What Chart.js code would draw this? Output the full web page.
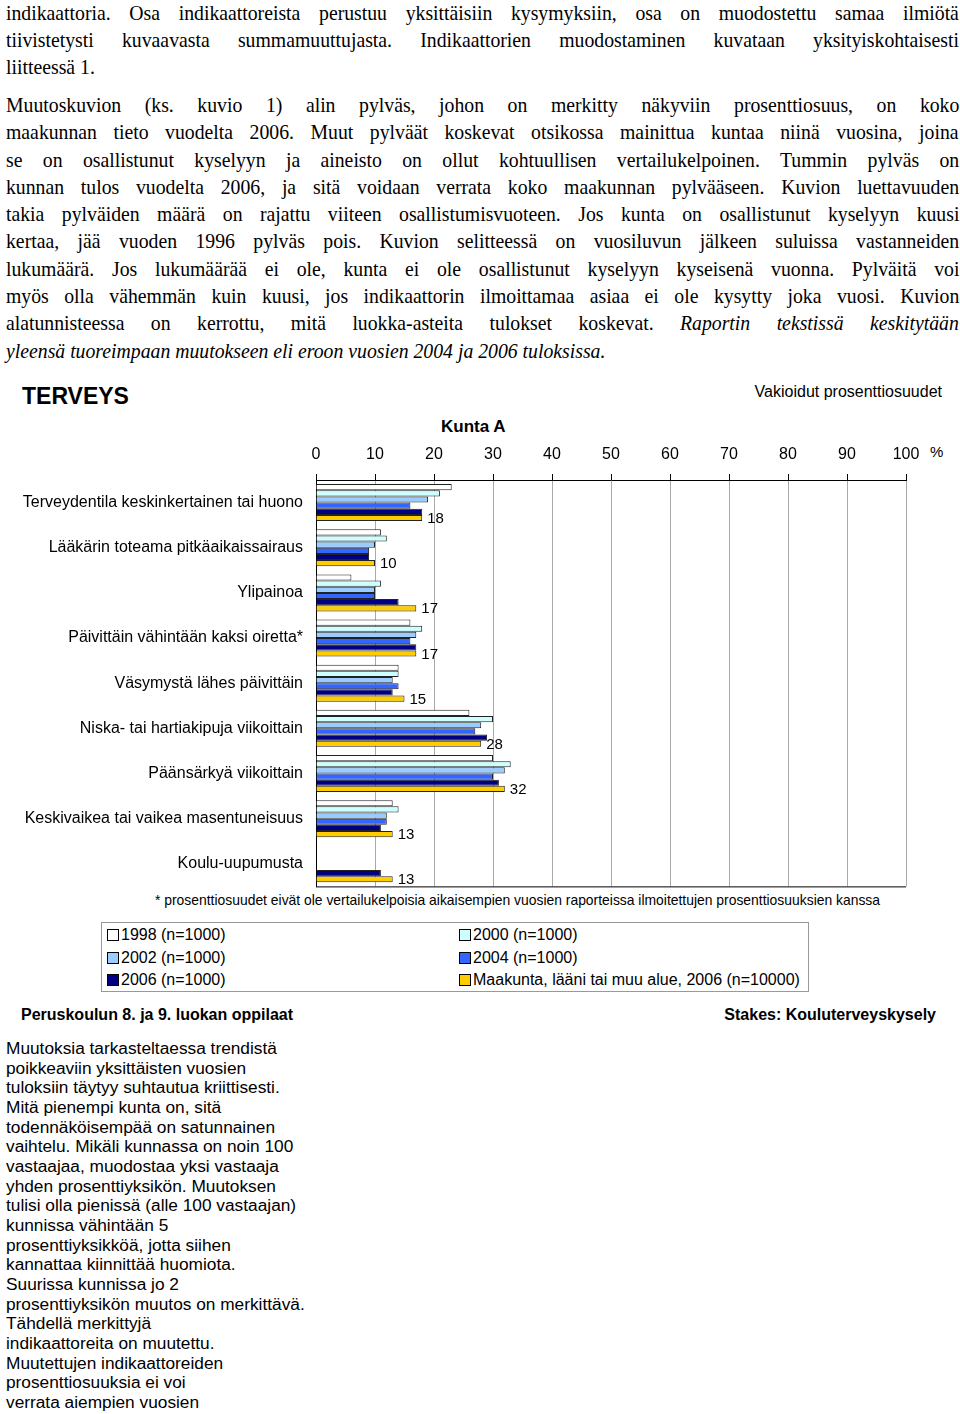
<!DOCTYPE html>
<html>
<head>
<meta charset="utf-8">
<script src="https://cdn.jsdelivr.net/npm/chart.js@4.4.1/dist/chart.umd.min.js"></script>
<style>
  body { margin: 0; width: 960px; height: 1414px; position: relative; background: #fff; overflow: hidden; }
  .t { position: absolute; white-space: nowrap; color: #000; }
  .serif { font-family: "Liberation Serif", "Times New Roman", serif; font-size: 21px; line-height: 27px; height: 27px; left: 6px; transform: scaleX(0.94); transform-origin: 0 0; }
  .sans { font-family: "Liberation Sans", Arial, sans-serif; }
  .note { font-size: 17.3px; line-height: 20px; left: 6px; }
  #legend { position: absolute; left: 101px; top: 922px; width: 706px; height: 68px; border: 1px solid #999; font-family: "Liberation Sans", Arial, sans-serif; font-size: 16px; }
  .lg { position: absolute; white-space: nowrap; line-height: 18px; }
  .lg span { display: inline-block; width: 10px; height: 10px; border: 1px solid #000; margin-right: 2px; vertical-align: -1px; }
  canvas { position: absolute; left: 0; top: 436px; }
</style>
</head>
<body>
<div id="text"></div>

<div class="t sans" style="left:22px; top:383px; font-size:23px; font-weight:bold;">TERVEYS</div>
<div class="t sans" style="right:18px; top:383px; font-size:16px;">Vakioidut prosenttiosuudet</div>
<div class="t sans" style="left:441px; top:417px; font-size:17px; font-weight:bold;">Kunta A</div>
<div class="t sans" style="left:930px; top:443px; font-size:15px;">%</div>
<div class="t sans" style="left:155px; top:892px; font-size:13.9px;">* prosenttiosuudet eivät ole vertailukelpoisia aikaisempien vuosien raporteissa ilmoitettujen prosenttiosuuksien kanssa</div>
<div id="legend"></div>
<div class="t sans" style="left:21px; top:1006px; font-size:16px; font-weight:bold;">Peruskoulun 8. ja 9. luokan oppilaat</div>
<div class="t sans" style="right:24px; top:1006px; font-size:16px; font-weight:bold;">Stakes: Kouluterveyskysely</div>
<div id="notes"></div>

<canvas id="chart" width="960" height="465"></canvas>

<script>
var categories = [
    'Terveydentila keskinkertainen tai huono',
    'Lääkärin toteama pitkäaikaissairaus',
    'Ylipainoa',
    'Päivittäin vähintään kaksi oiretta*',
    'Väsymystä lähes päivittäin',
    'Niska- tai hartiakipuja viikoittain',
    'Päänsärkyä viikoittain',
    'Keskivaikea tai vaikea masentuneisuus',
    'Koulu-uupumusta'
];
var seriesLabels = ['1998 (n=1000)', '2000 (n=1000)', '2002 (n=1000)', '2004 (n=1000)', '2006 (n=1000)', 'Maakunta, lääni tai muu alue, 2006 (n=10000)'];
var seriesColors = ['#ffffff', '#ccffff', '#99ccff', '#3366ff', '#000080', '#ffcc00'];
var values1998 = [23, 11, 6, 16, 14, 26, 30, 13, null];
var values2000 = [21, 12, 11, 18, 14, 30, 33, 14, null];
var values2002 = [19, 10, 10, 17, 13, 28, 32, 12, null];
var values2004 = [16, 9, 10, 16, 14, 27, 30, 12, null];
var values2006 = [18, 9, 14, 17, 13, 29, 31, 11, 11];
var valuesRegion = [18, 10, 17, 17, 15, 28, 32, 13, 13];
var xTicks = [0, 10, 20, 30, 40, 50, 60, 70, 80, 90, 100];

var topLines = [
    {y: 13, s: 'indikaattoria. Osa indikaattoreista perustuu yksittäisiin kysymyksiin, osa on muodostettu samaa ilmiötä', j: true},
    {y: 40, s: 'tiivistetysti kuvaavasta summamuuttujasta. Indikaattorien muodostaminen kuvataan yksityiskohtaisesti', j: true},
    {y: 67, s: 'liitteessä 1.', j: false},
    {y: 105, s: 'Muutoskuvion (ks. kuvio 1) alin pylväs, johon on merkitty näkyviin prosenttiosuus, on koko', j: true},
    {y: 132, s: 'maakunnan tieto vuodelta 2006. Muut pylväät koskevat otsikossa mainittua kuntaa niinä vuosina, joina', j: true},
    {y: 160, s: 'se on osallistunut kyselyyn ja aineisto on ollut kohtuullisen vertailukelpoinen. Tummin pylväs on', j: true},
    {y: 187, s: 'kunnan tulos vuodelta 2006, ja sitä voidaan verrata koko maakunnan pylvääseen. Kuvion luettavuuden', j: true},
    {y: 214, s: 'takia pylväiden määrä on rajattu viiteen osallistumisvuoteen. Jos kunta on osallistunut kyselyyn kuusi', j: true},
    {y: 241, s: 'kertaa, jää vuoden 1996 pylväs pois. Kuvion selitteessä on vuosiluvun jälkeen suluissa vastanneiden', j: true},
    {y: 269, s: 'lukumäärä. Jos lukumäärää ei ole, kunta ei ole osallistunut kyselyyn kyseisenä vuonna. Pylväitä voi', j: true},
    {y: 296, s: 'myös olla vähemmän kuin kuusi, jos indikaattorin ilmoittamaa asiaa ei ole kysytty joka vuosi. Kuvion', j: true},
    {y: 323, s: 'alatunnisteessa on kerrottu, mitä luokka-asteita tulokset koskevat. <i>Raportin tekstissä keskitytään</i>', j: true},
    {y: 351, s: '<i>yleensä tuoreimpaan muutokseen eli eroon vuosien 2004 ja 2006 tuloksissa.</i>', j: false}
];
var noteLines = [
    'Muutoksia tarkasteltaessa trendistä',
    'poikkeaviin yksittäisten vuosien',
    'tuloksiin täytyy suhtautua kriittisesti.',
    'Mitä pienempi kunta on, sitä',
    'todennäköisempää on satunnainen',
    'vaihtelu. Mikäli kunnassa on noin 100',
    'vastaajaa, muodostaa yksi vastaaja',
    'yhden prosenttiyksikön. Muutoksen',
    'tulisi olla pienissä (alle 100 vastaajan)',
    'kunnissa vähintään 5',
    'prosenttiyksikköä, jotta siihen',
    'kannattaa kiinnittää huomiota.',
    'Suurissa kunnissa jo 2',
    'prosenttiyksikön muutos on merkittävä.',
    'Tähdellä merkittyjä',
    'indikaattoreita on muutettu.',
    'Muutettujen indikaattoreiden',
    'prosenttiosuuksia ei voi',
    'verrata aiempien vuosien'
];

// text above the chart, each line stretched to full width
var scaleX = 0.94;
var textBox = document.getElementById('text');
topLines.forEach(function (line) {
    var d = document.createElement('div');
    d.className = 't serif';
    d.style.top = (line.y - 13.5) + 'px';
    d.innerHTML = line.s;
    textBox.appendChild(d);
    if (line.j) {
        var gaps = line.s.replace(/<[^>]+>/g, '').split(' ').length - 1;
        var extra = (953 / scaleX - d.offsetWidth) / gaps;
        d.style.wordSpacing = extra + 'px';
    }
});

var notesBox = document.getElementById('notes');
noteLines.forEach(function (s, i) {
    var d = document.createElement('div');
    d.className = 't sans note';
    d.style.top = (1038 + i * 19.67) + 'px';
    d.textContent = s;
    notesBox.appendChild(d);
});

// legend, two columns
var legend = document.getElementById('legend');
seriesLabels.forEach(function (label, i) {
    var d = document.createElement('div');
    d.className = 'lg';
    d.style.left = (i % 2 === 0 ? 5 : 357) + 'px';
    d.style.top = (3 + Math.floor(i / 2) * 22.5) + 'px';
    d.innerHTML = '<span style="background:' + seriesColors[i] + '"></span>' + label;
    legend.appendChild(d);
});

var seriesValues = [values1998, values2000, values2002, values2004, values2006, valuesRegion];
var datasets = seriesValues.map(function (vals, i) {
    return {
        label: seriesLabels[i],
        data: vals,
        backgroundColor: seriesColors[i],
        borderColor: '#222',
        borderWidth: 1,
        barPercentage: 1,
        categoryPercentage: 0.82
    };
});

var regionLabels = {
    id: 'regionLabels',
    afterDatasetsDraw: function (chart) {
        var ctx = chart.ctx;
        var meta = chart.getDatasetMeta(5);
        ctx.save();
        ctx.font = '15px "Liberation Sans", Arial, sans-serif';
        ctx.fillStyle = '#000';
        ctx.textBaseline = 'middle';
        meta.data.forEach(function (bar, i) {
            ctx.fillText(valuesRegion[i], bar.x + 5, bar.y + 1);
        });
        ctx.restore();
    }
};

var frame = {
    id: 'frame',
    afterDraw: function (chart) {
        var a = chart.chartArea;
        var ctx = chart.ctx;
        ctx.save();
        ctx.strokeStyle = '#000';
        ctx.lineWidth = 1;
        ctx.beginPath();
        ctx.moveTo(a.left, a.bottom + 0.5);
        ctx.lineTo(a.right, a.bottom + 0.5);
        ctx.stroke();
        ctx.restore();
    }
};

Chart.defaults.font.family = '"Liberation Sans", Arial, sans-serif';
Chart.defaults.color = '#000';

new Chart(document.getElementById('chart').getContext('2d'), {
    type: 'bar',
    data: { labels: categories, datasets: datasets },
    options: {
        indexAxis: 'y',
        responsive: false,
        animation: false,
        layout: { padding: { left: 0, right: 54, top: 0, bottom: 6 } },
        plugins: { legend: { display: false }, tooltip: { enabled: false } },
        scales: {
            x: {
                position: 'top',
                min: 0,
                max: 100,
                afterBuildTicks: function (scale) {
                    scale.ticks = xTicks.map(function (v) { return {value: v}; });
                },
                afterFit: function (scale) { scale.height = 44; },
                ticks: { font: { size: 16 }, padding: 10, maxRotation: 0 },
                grid: {
                    color: '#aaa',
                    borderDash: [2, 2],
                    tickColor: '#000',
                    tickBorderDash: [],
                    tickLength: 6
                },
                border: { color: '#000', width: 1 }
            },
            y: {
                afterFit: function (scale) { scale.width = 316; },
                ticks: { font: { size: 16 }, padding: 5 },
                grid: { display: false },
                border: { color: '#000', width: 1 }
            }
        }
    },
    plugins: [regionLabels, frame]
});
</script>
</body>
</html>
